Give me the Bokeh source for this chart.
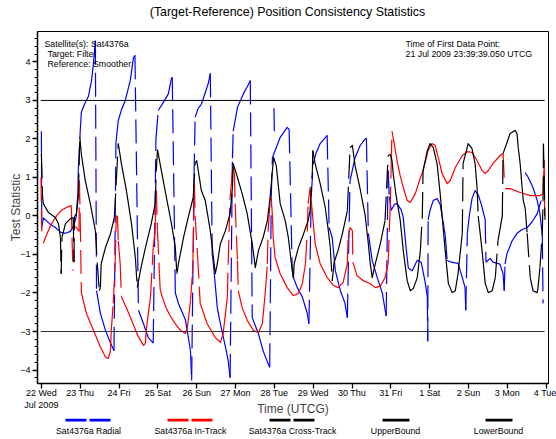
import math
from bokeh.plotting import figure
from bokeh.models import Range1d, FixedTicker, Label
from bokeh.layouts import column
from bokeh.embed import file_html
from bokeh.resources import INLINE
from bokeh.core.properties import value

FONT = "Liberation Sans"
NaN = float("nan")

# ---------------- data (time in days since 22 Jul 2009 00:00 UTCG) ----------------
day_ticks = list(range(14))
day_labels = ["22 Wed\nJul 2009", "23 Thu", "24 Fri", "25 Sat", "26 Sun", "27 Mon", "28 Tue",
              "29 Wed", "30 Thu", "31 Fri", "1 Sat", "2 Sun", "3 Mon", "4 Tue"]
y_ticks = [-4, -3, -2, -1, 0, 1, 2, 3, 4]
y_minor_ticks = [round(-4.2 + 0.2 * i, 1) for i in range(45)]

radial_t = [0.00, 0.01, 0.05, 0.21, 0.36, 0.49, 0.62, 0.75, 0.85, 0.90,
            0.94, 0.95, 1.00, 1.03, 1.11, 1.21, 1.29, 1.34, 1.39, 1.42,
            1.52, 1.65, 1.78, 1.87, 1.92, 1.98, 2.06, 2.16, 2.29, 2.37,
            2.41, 2.50, 2.63, 2.75, 2.88, 2.95, 3.01, 3.14, 3.27, 3.35,
            3.37, 3.45, 3.53, 3.71, 3.84, 3.87, 3.93, 3.96, 4.04, 4.12,
            4.22, 4.30, 4.35, 4.40, 4.43, 4.53, 4.61, 4.74, 4.81, 4.86,
            4.92, 4.94, 5.05, 5.20, 5.30, 5.38, 5.43, 5.59, 5.71, 5.84,
            5.88, 5.92, 5.95, 6.02, 6.15, 6.33, 6.38, 6.46, 6.49, 6.59,
            6.72, 6.85, 6.89, 6.95, 7.00, 7.08, 7.18, 7.36, 7.41, 7.49,
            7.57, 7.70, 7.82, 7.88, 7.93, 7.95, 8.08, 8.21, 8.34, 8.37,
            8.42, 8.52, 8.65, 8.78, 8.88, 8.93, 8.96, 9.01, 9.09, 9.16,
            9.27, 9.32, 9.40, 9.45, 9.55, 9.68, 9.78, 9.88, 9.94, 9.95,
            9.96, 10.01, 10.09, 10.19, 10.27, 10.32, 10.40, 10.45, 10.55, 10.66,
            10.73, 10.84, 10.91, 10.93, 10.97, 11.02, 11.09, 11.17, 11.25, 11.33,
            11.43, 11.45, 11.56, 11.63, 11.81, 11.89, 11.92, 11.94, 11.99, 12.12,
            12.25, 12.38, 12.51, 12.64, 12.77, 12.87, NaN, 12.46, 12.54, 12.66,
            12.77, 12.84, 12.90, 12.92, NaN, 5.99, 6.00]
radial_v = [2.2, -0.3, -0.05, -0.2, -0.3, -0.42, -0.45, -0.4, -0.2, 0.0,
            0.6, 1.18, 2.2, 2.7, 2.9, 3.1, 3.5, 3.96, 4.55, -1.94,
            -2.53, -2.97, -3.3, -3.5, 1.9, 2.48, 2.75, 3.0, 3.52, 4.1,
            4.17, -2.45, -2.8, -3.15, -3.3, 2.0, 2.74, 2.95, 3.17, 3.57,
            3.6, -2.0, -2.27, -2.7, -3.5, -4.27, 1.0, 2.56, 2.8, 2.9,
            3.2, 3.45, 3.7, -1.0, -1.24, -2.38, -2.8, -3.4, -3.75, -4.2,
            1.5, 2.2, 2.82, 3.17, 3.35, 3.52, -2.64, -3.06, -3.5, -3.84,
            -3.93, 0.5, 1.52, 1.7, 2.04, 2.3, 2.25, -1.4, -1.6, -1.86,
            -2.1, -2.54, -2.8, 0.5, 1.36, 1.65, 1.88, 2.09, -0.3, -0.56,
            -1.42, -1.94, -2.27, -2.64, 0.0, 0.92, 1.52, 1.83, 2.0, 2.02,
            -0.45, -1.16, -1.6, -2.0, -2.6, 1.18, 0.5, 0.15, 0.3, 0.32,
            0.15, -0.05, -0.9, -1.35, -1.42, -1.15, -1.2, -1.7, -2.1, -3.25,
            -0.1, 0.15, 0.4, 0.45, 0.3, 0.0, -0.5, -1.15, -1.2, -1.22,
            -1.23, -1.6, -1.85, -2.45, -0.45, 0.0, 0.45, 0.66, 0.55, 0.3,
            -0.1, -1.2, -1.1, -1.2, -1.25, -1.5, -1.94, -1.25, -0.98, -0.65,
            -0.45, -0.35, -0.3, -0.15, 0.06, 0.4, NaN, 1.13, 1.0, 0.74,
            0.4, 0.06, -0.5, -2.27, NaN, 2.8, 2.2]

intrack_t = [-0.01, 0.01, NaN, 0.05, 0.15, 0.26, 0.39, 0.51, 0.64, 0.77,
             0.81, NaN, 0.82, 0.90, 0.97, 0.98, 1.00, 1.03, 1.16, 1.34,
             1.52, 1.65, 1.72, 1.78, 1.80, 1.85, 1.90, 1.93, 1.96, 1.98,
             2.03, 2.06, 2.19, 2.32, 2.50, 2.63, 2.68, 2.70, 2.81, 2.88,
             2.93, 2.96, 2.99, 3.04, 3.06, 3.11, 3.22, 3.32, 3.45, 3.58,
             3.71, 3.76, 3.84, 3.89, 3.91, 3.94, 3.96, 4.02, 4.07, 4.09,
             4.27, 4.48, 4.61, 4.68, 4.79, 4.81, 4.86, 4.92, 4.94, 4.97,
             4.99, 5.05, 5.07, 5.17, 5.30, 5.46, 5.59, 5.69, 5.77, 5.82,
             5.84, 5.89, 5.92, 5.95, 5.97, 6.02, 6.15, 6.33, 6.49, 6.62,
             6.72, 6.80, 6.85, 6.87, 6.92, 6.98, 7.05, 7.18, 7.36, 7.52,
             7.64, 7.77, 7.88, 7.90, 7.95, 8.01, 8.02, 8.13, 8.29, 8.47,
             8.60, 8.73, 8.85, 8.93, 8.98, 9.01, 9.03, 9.09, 9.16, 9.24,
             9.32, 9.42, 9.50, 9.63, 9.73, 9.83, 9.96, 10.06, 10.14, 10.22,
             10.32, 10.45, 10.53, 10.66, 10.84, 10.97, 11.09, 11.22, 11.35, 11.43,
             11.51, 11.63, 11.81, 11.89, 11.92, NaN, 11.94, 12.07, 12.33, 12.59,
             12.84, 12.92, 12.95, 12.96]
intrack_v = [1.0, -0.4, NaN, -0.71, -0.45, -0.2, 0.0, 0.14, 0.22, 0.27,
             -1.42, NaN, -0.25, -0.3, -0.4, 0.92, -0.05, -2.0, -2.53, -2.97,
             -3.4, -3.66, -3.7, -3.5, -2.97, -2.27, -1.24, 0.0, 0.0, -0.65,
             -1.24, -2.1, -2.38, -2.7, -3.14, -3.36, -3.3, -2.97, -2.1, -0.82,
             -0.38, 0.66, -0.38, -1.5, -1.9, -2.1, -2.4, -2.6, -2.8, -2.97,
             -3.05, -2.9, -2.2, -1.5, -0.9, 0.84, 0.0, -1.0, -1.9, -2.27,
             -2.8, -3.16, -3.28, -3.06, -2.1, -1.24, 0.48, 1.18, 1.26, 1.1,
             0.32, -1.16, -1.94, -2.38, -2.71, -2.97, -3.03, -2.8, -1.94, -1.24,
             -0.38, 0.4, 0.48, 0.0, -0.56, -1.08, -1.5, -1.86, -2.07, -2.01,
             -1.76, -1.24, -0.38, 0.32, 0.74, 0.06, -0.72, -1.24, -1.6, -1.8,
             -1.86, -1.73, -1.24, -0.56, -0.3, -0.38, -1.2, -1.55, -1.68, -1.76,
             -1.86, -1.82, -1.6, -1.24, 0.14, 1.36, 2.2, 1.85, 1.44, 1.05,
             0.74, 0.40, 0.35, 0.58, 0.9, 1.18, 1.70, 1.88, 1.83, 1.52,
             1.10, 0.84, 0.92, 1.26, 1.57, 1.67, 1.65, 1.44, 1.18, 1.10,
             1.18, 1.36, 1.57, 1.62, 0.97, NaN, 0.71, 0.71, 0.61, 0.53,
             0.53, 0.58, 1.44, 0.0]

cross_t = [0.00, 0.03, 0.05, 0.18, 0.36, 0.44, 0.49, 0.51, 0.53, 0.62,
           0.75, 0.82, 0.84, 0.85, 0.90, 0.95, 0.99, 1.03, 1.13, 1.26,
           1.39, 1.44, 1.49, 1.52, 1.54, 1.65, 1.78, 1.88, 1.93, 1.98,
           2.06, 2.19, 2.32, 2.42, 2.47, 2.55, 2.68, 2.83, 2.93, 2.96,
           2.99, 3.09, 3.22, 3.35, 3.45, 3.49, 3.53, 3.66, 3.78, 3.91,
           3.96, 4.00, 4.12, 4.22, 4.35, 4.43, 4.48, 4.53, 4.61, 4.74,
           4.86, 4.92, 4.94, 5.05, 5.17, 5.30, 5.43, 5.51, 5.59, 5.71,
           5.82, 5.89, 5.95, 5.98, 6.05, 6.15, 6.28, 6.36, 6.44, 6.49,
           6.51, 6.62, 6.74, 6.87, 6.92, 6.98, 6.99, 7.05, 7.18, 7.31,
           7.39, 7.44, 7.49, 7.54, 7.64, 7.77, 7.88, 7.95, 8.01, 8.08,
           8.21, 8.34, 8.42, 8.47, 8.52, 8.60, 8.73, 8.85, 8.93, 8.98,
           9.03, 9.06, 9.14, 9.24, 9.32, 9.42, 9.50, 9.58, 9.68, 9.76,
           9.81, 9.83, 9.94, 10.01, 10.09, 10.19, 10.27, 10.32, 10.40, 10.48,
           10.58, 10.66, 10.73, 10.84, 10.86, 10.99, 11.09, 11.17, 11.22, 11.25,
           11.35, 11.43, 11.51, 11.61, 11.69, 11.76, 11.87, 11.89, 11.99, 12.07,
           12.20, 12.25, 12.28, 12.33, 12.38, 12.41, 12.46, 12.51, 12.59, 12.66,
           12.77, 12.79, 12.84, 12.90, 12.92, 12.93, 12.97]
cross_v = [1.6, 0.5, 0.32, 0.09, -0.04, -0.2, -0.56, -1.5, -0.56, -0.2,
           -0.07, -0.04, -1.2, -0.02, 0.05, 0.48, 2.04, 1.6, 0.92, 0.32,
           -0.38, -1.23, -1.94, -1.85, -1.24, -0.82, -0.46, -0.04, 0.92, 1.88,
           1.36, 0.66, -0.2, -1.08, -1.86, -1.42, -0.82, -0.2, 0.32, 1.18,
           1.72, 1.18, 0.48, -0.2, -0.82, -1.5, -1.24, -0.56, -0.04, 0.48,
           1.36, 1.44, 0.66, 0.4, -0.38, -1.08, -1.5, -1.24, -0.72, -0.38,
           0.06, 0.74, 1.36, 1.0, 0.58, 0.06, -0.72, -1.34, -0.9, -0.56,
           -0.12, 0.48, 1.18, 1.52, 1.3, 0.32, -0.12, -0.56, -1.24, -1.6,
           -1.24, -0.82, -0.5, -0.12, 0.14, 1.2, 1.7, 1.36, 0.84, 0.22,
           -0.38, -0.82, -1.68, -1.2, -0.9, -0.38, 0.14, 1.78, 1.83, 1.3,
           0.7, 0.0, -0.72, -1.24, -1.6, -1.24, -0.72, -0.12, 1.57, 1.6,
           1.44, 1.1, 0.5, -0.1, -0.9, -1.68, -1.94, -1.88, -1.6, -0.9,
           0.0, 1.18, 1.70, 1.88, 1.78, 1.36, 0.58, 0.0, -0.9, -1.75,
           -1.99, -1.94, -1.5, -0.45, 1.36, 1.88, 1.75, 1.36, 0.74, 0.0,
           -0.9, -1.75, -1.99, -1.94, -1.6, -0.64, 0.0, 1.62, 1.9, 2.14,
           2.22, 2.14, 1.78, 1.36, 0.74, 0.4, 0.2, -0.45, -1.6, -1.94,
           -1.99, -1.86, -1.34, -0.45, 0.4, 1.88, -0.1]

bound_t = [-0.014, 12.96]
upper_bound = [3.0, 3.0]
lower_bound = [-3.0, -3.0]

legend_names = ["Sat4376a Radial", "Sat4376a In-Track", "Sat4376a Cross-Track", "UpperBound", "LowerBound"]
legend_colors = ["#0000ff", "#ff0000", "#000000", "#000000", "#000000"]
legend_dashed = [True, True, True, False, False]

title_text = "(Target-Reference) Position Consistency Statistics"

BL, BR = 37, 8  # left / right borders shared by all rows (frame spans 37..548)


def strip(height):
    s = figure(width=556, height=height, x_range=Range1d(BL, 556 - BR), y_range=Range1d(height, 0),
               output_backend="svg", toolbar_location=None, x_axis_type=None, y_axis_type=None,
               min_border_left=BL, min_border_right=BR, min_border_top=0, min_border_bottom=0,
               outline_line_color=None)
    s.grid.visible = False
    return s


# ---------------- title strip ----------------
tp = strip(31)
tp.text(x=[287], y=[11.5], text=[title_text], text_align="center", text_baseline="middle",
        text_font=value(FONT), text_font_size="12.4px", text_color="black")

# ---------------- main figure ----------------
p = figure(width=556, height=387, x_range=Range1d(-0.1, 13.06), y_range=Range1d(-4.35, 4.79),
           output_backend="svg", toolbar_location=None,
           min_border_left=BL, min_border_right=BR, min_border_top=0, min_border_bottom=35)
p.grid.visible = False
p.outline_line_color = "black"
p.outline_line_width = 1
p.background_fill_color = "white"
p.border_fill_color = "white"

for ax in (p.xaxis[0], p.yaxis[0]):
    ax.axis_line_width = 1.5
    ax.axis_line_color = "black"
    ax.major_tick_line_width = 1.3
    ax.major_tick_line_color = "black"
    ax.major_tick_in = 0
    ax.major_tick_out = 5
    ax.minor_tick_in = 0
    ax.minor_tick_out = 3
    ax.major_label_text_font = FONT
    ax.major_label_text_font_size = "9px"
    ax.major_label_text_color = "black"
    ax.major_label_standoff = 2

p.xaxis.major_label_standoff = -1
p.xaxis.ticker = FixedTicker(ticks=day_ticks, minor_ticks=[])
p.xaxis.major_label_overrides = {t: lab for t, lab in zip(day_ticks, day_labels)}
p.xaxis.minor_tick_line_color = None
p.xaxis.axis_label = "Time (UTCG)"
p.xaxis.axis_label_text_font = FONT
p.xaxis.axis_label_text_font_size = "12px"
p.xaxis.axis_label_text_font_style = "normal"
p.xaxis.axis_label_standoff = -11
p.yaxis.ticker = FixedTicker(ticks=y_ticks, minor_ticks=y_minor_ticks)
p.yaxis.minor_tick_line_color = "black"
p.yaxis.axis_label = "Test Statistic"
p.yaxis.axis_label_text_font = FONT
p.yaxis.axis_label_text_font_size = "12px"
p.yaxis.axis_label_text_font_style = "normal"
p.yaxis.axis_label_standoff = -6


def split_runs(t, v, steep_ratio=12.0):
    runs_x, runs_y = [], []
    j = ([], [], [], [])
    cur_x, cur_y = [], []

    def flush():
        if len(cur_x) > 1:
            runs_x.append(list(cur_x))
            runs_y.append(list(cur_y))
        cur_x.clear()
        cur_y.clear()

    for i in range(len(t) - 1):
        a, b, c, d = t[i], t[i + 1], v[i], v[i + 1]
        if any(math.isnan(z) for z in (a, b, c, d)):
            flush()
            continue
        if abs(d - c) > steep_ratio * abs(b - a):
            flush()
            j[0].append(a); j[1].append(c); j[2].append(b); j[3].append(d)
        else:
            if not cur_x:
                cur_x.append(a)
                cur_y.append(c)
            cur_x.append(b)
            cur_y.append(d)
    flush()
    return runs_x, runs_y, j


for t, v, col in ((radial_t, radial_v, "#0000ff"),
                  (intrack_t, intrack_v, "#ff0000"),
                  (cross_t, cross_v, "#000000")):
    assert len(t) == len(v)
    xs, ys, j = split_runs(t, v)
    p.multi_line(xs=xs, ys=ys, line_color=col, line_width=1.2, line_join="round")
    p.segment(x0=j[0], y0=j[1], x1=j[2], y1=j[3], line_color=col, line_width=1.2,
              line_dash="24 8")

p.line(bound_t, upper_bound, line_color="black", line_width=1)
p.line(bound_t, lower_bound, line_color="#333333", line_width=1.2)


# text annotations (screen units relative to plot frame)
def add_label(x, y, text, size="8.8px", align="left"):
    p.add_layout(Label(x=x, y=y, x_units="screen", y_units="screen", text=text,
                       text_font=FONT, text_font_size=size, text_color="black",
                       text_align=align, text_baseline="middle"))


add_label(7, 340, "Satellite(s): Sat4376a")
add_label(10, 330, "Target: Filter")
add_label(10, 320, "Reference: Smoother")
add_label(368, 340, "Time of First Data Point:")
add_label(368, 330, "21 Jul 2009 23:39:39.050 UTCG")

# ---------------- legend strip ----------------
lg = strip(21)
centers = [88, 190, 292, 395, 498]
for c, col, dashed in zip(centers, legend_colors, legend_dashed):
    if dashed:
        lg.segment(x0=[c - 23, c + 1], y0=[1.6, 1.6], x1=[c - 2, c + 22], y1=[1.6, 1.6],
                   line_color=col, line_width=3)
    else:
        lg.segment(x0=[c - 13], y0=[1.6], x1=[c + 14], y1=[1.6], line_color=col, line_width=3)
lg.text(x=centers, y=[12.5] * len(centers), text=legend_names, text_align="center",
        text_baseline="middle", text_font=value(FONT), text_font_size="8.8px",
        text_color="black")

layout = column(tp, p, lg, spacing=0)
open("out.html", "w").write(file_html(layout, INLINE))
